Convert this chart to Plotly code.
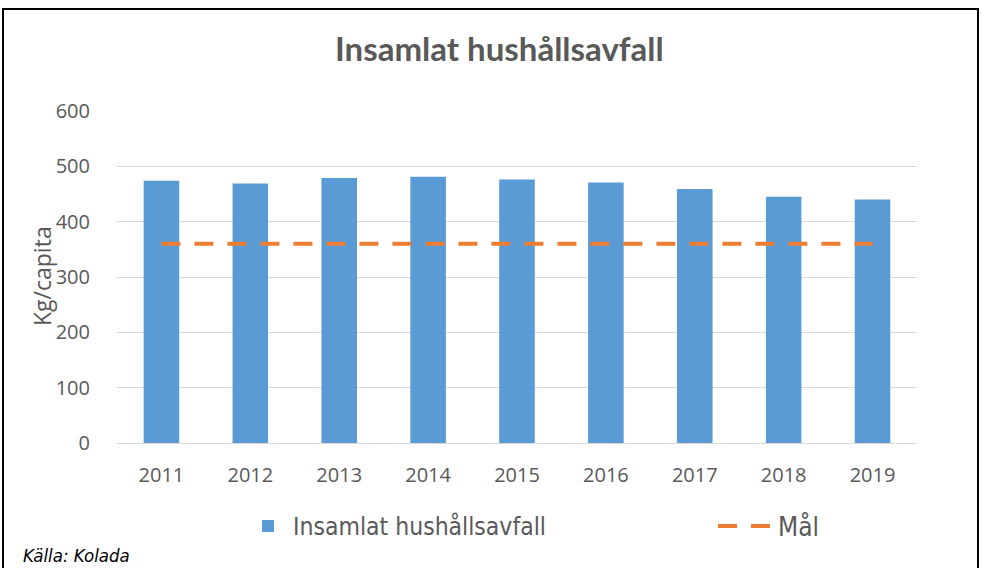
import plotly.graph_objects as go

years = ["2011", "2012", "2013", "2014", "2015", "2016", "2017", "2018", "2019"]
waste = [474, 469, 479, 481, 476, 471, 459, 445, 440]
target = [360, 360, 360, 360, 360, 360, 360, 360, 360]
y_ticks = [0, 100, 200, 300, 400, 500, 600]

TICKFONT = "Open Sans, sans-serif"
TITLEFONT = "Lato, sans-serif"
LEGFONT = "Liberation Sans Narrow, DejaVu Sans Condensed, sans-serif"
GRAY = "#595959"

L, R, T, B = 117, 65, 111, 125
W, H = 982, 568
pw, ph = W - L - R, H - T - B

def px_x(p):
    return (p - L) / pw

def px_y(p):
    return (H - B - p) / ph

fig = go.Figure()
fig.add_trace(go.Bar(
    x=years, y=waste, name="Insamlat hushållsavfall",
    marker=dict(color="#5B9BD5", line=dict(width=0)),
    legend="legend",
))
fig.add_trace(go.Scatter(
    x=years, y=target, name="Mål", mode="lines",
    line=dict(color="#ED7D31", width=4, dash="19px,14px"),
    legend="legend2",
))

leg_common = dict(
    orientation="h", yanchor="middle", y=px_y(526),
    font=dict(size=24.5, color=GRAY, family=LEGFONT),
    bgcolor="rgba(0,0,0,0)",
)

fig.update_layout(
    width=W, height=H,
    margin=dict(l=L, r=R, t=T, b=B, autoexpand=False),
    paper_bgcolor="white", plot_bgcolor="white",
    font=dict(family=TICKFONT, color=GRAY),
    bargap=0.6,
    showlegend=True,
    legend=dict(leg_common, x=px_x(243), xanchor="left", itemwidth=40),
    legend2=dict(leg_common, x=px_x(713), xanchor="left", itemwidth=55,
                 font=dict(size=26, color=GRAY, family=LEGFONT)),
    xaxis=dict(
        type="category", tickfont=dict(size=20, color=GRAY),
        showline=True, linecolor="#D9D9D9", linewidth=1,
        ticks="outside", ticklen=14, tickcolor="rgba(0,0,0,0)",
        showgrid=False,
    ),
    yaxis=dict(
        range=[0, 600], tickvals=y_ticks, tickfont=dict(size=20, color=GRAY),
        showgrid=True, gridcolor="#D9D9D9", gridwidth=1,
        zeroline=False, ticks="outside", ticklen=22, tickcolor="rgba(0,0,0,0)",
    ),
    shapes=[dict(
        type="rect", xref="paper", yref="paper",
        x0=px_x(3), x1=px_x(978), y0=px_y(600), y1=px_y(9),
        line=dict(color="black", width=2), fillcolor="rgba(0,0,0,0)", layer="below",
    )],
    annotations=[
        dict(text="<b>Insamlat hushållsavfall</b>", xref="paper", yref="paper",
             x=px_x(499), y=px_y(48), xanchor="center", yanchor="middle",
             showarrow=False, font=dict(size=33, color=GRAY, family=TITLEFONT)),
        dict(text="Kg/capita", xref="paper", yref="paper", textangle=-90,
             x=px_x(42), y=px_y(276), xanchor="center", yanchor="middle",
             showarrow=False, font=dict(size=23, color=GRAY, family=TICKFONT)),
        dict(text="<i>Källa: Kolada</i>", xref="paper", yref="paper",
             x=px_x(21), y=px_y(555), xanchor="left", yanchor="middle",
             showarrow=False, font=dict(size=18.5, color="black", family=LEGFONT)),
    ],
)

fig.write_html(
    "out.html",
    config={"displayModeBar": False},
    post_script="document.body.style.margin='0';document.body.style.overflow='hidden';",
)
